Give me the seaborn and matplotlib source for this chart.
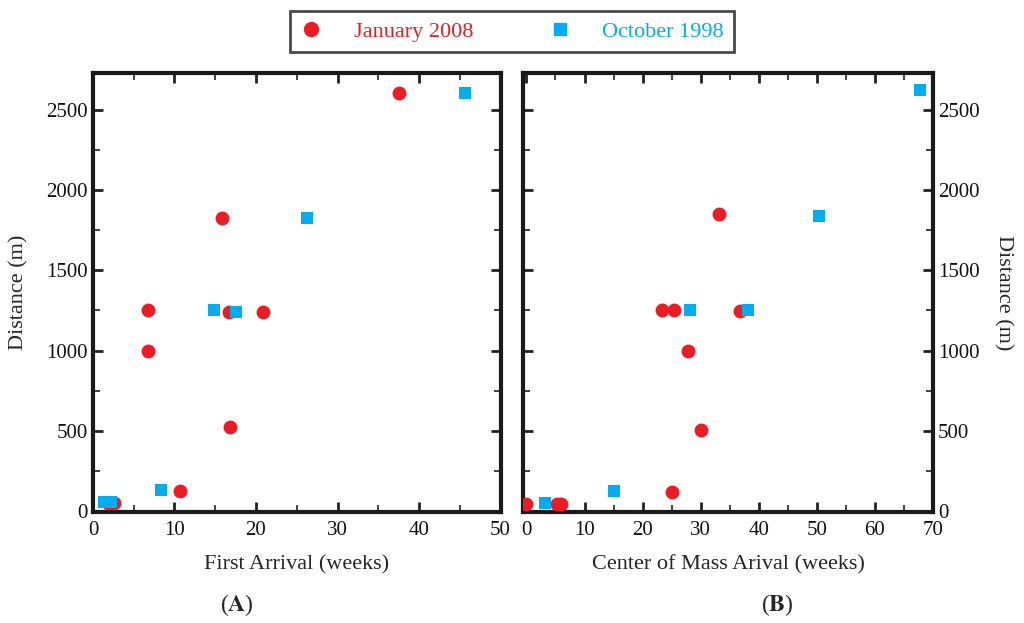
import matplotlib
matplotlib.use('Agg')
import matplotlib.pyplot as plt
import seaborn as sns
import pandas as pd
from matplotlib.ticker import MultipleLocator
from matplotlib.lines import Line2D

# series labels
series = ['January 2008', 'October 1998']
colors = {'January 2008': '#ED1C24', 'October 1998': '#00AEEF'}
markers = {'January 2008': 'o', 'October 1998': 's'}

# panel A: first arrival (weeks) vs distance (m)
jan_first_x = [37.6, 15.8, 6.8, 6.8, 16.7, 20.8, 16.8, 10.7, 1.8, 2.6]
jan_first_y = [2610, 1830, 1250, 1000, 1240, 1240, 520, 120, 45, 50]
oct_first_x = [45.7, 26.3, 14.9, 17.6, 8.4, 1.3, 2.2]
oct_first_y = [2610, 1830, 1255, 1240, 130, 55, 55]

# panel B: center of mass arrival (weeks) vs distance (m)
jan_com_x = [0.0, 5.2, 6.0, 25.1, 30.1, 27.8, 23.3, 25.4, 36.8, 33.2]
jan_com_y = [40, 40, 40, 115, 505, 995, 1250, 1250, 1247, 1850]
oct_com_x = [3.2, 15.0, 28.1, 38.1, 50.4, 67.8]
oct_com_y = [45, 120, 1250, 1250, 1840, 2630]

dfA = pd.concat([
    pd.DataFrame({'x': jan_first_x, 'y': jan_first_y, 'series': series[0]}),
    pd.DataFrame({'x': oct_first_x, 'y': oct_first_y, 'series': series[1]}),
])
dfB = pd.concat([
    pd.DataFrame({'x': jan_com_x, 'y': jan_com_y, 'series': series[0]}),
    pd.DataFrame({'x': oct_com_x, 'y': oct_com_y, 'series': series[1]}),
])

sns.set_style('white')
plt.rcParams['font.family'] = ['Liberation Serif', 'DejaVu Serif']
plt.rcParams['mathtext.fontset'] = 'stix'

fig = plt.figure(figsize=(10.24, 6.23), dpi=100)
axA = fig.add_axes([0.0908, 0.178, 0.398, 0.705])
axB = fig.add_axes([0.5107, 0.178, 0.4004, 0.705])

sizes = {'January 2008': 100, 'October 1998': 64}
for ax, df in [(axA, dfA), (axB, dfB)]:
    for s in series:
        sub = df[df['series'] == s]
        sns.scatterplot(data=sub, x='x', y='y', color=colors[s], marker=markers[s],
                        s=sizes[s], linewidth=0, ax=ax, legend=False, zorder=3)

axA.set_xlim(0, 50)
axB.set_xlim(-0.6, 70)
for ax in (axA, axB):
    ax.set_ylim(-10, 2735)
    ax.yaxis.set_major_locator(MultipleLocator(500))
    ax.yaxis.set_minor_locator(MultipleLocator(250))
    ax.xaxis.set_major_locator(MultipleLocator(10))
    ax.xaxis.set_minor_locator(MultipleLocator(5))
    ax.tick_params(which='both', direction='in', top=True, bottom=True, left=True, right=True,
                   labelsize=15, colors='#222222', labelcolor='#111111')
    ax.tick_params(axis='x', which='major', pad=6.5)
    ax.tick_params(which='major', length=7, width=2)
    ax.tick_params(which='minor', length=5, width=1.2)
    for sp in ax.spines.values():
        sp.set_linewidth(3)
        sp.set_color('#1a1a1a')

axA.set_xlabel('First Arrival (weeks)', fontsize=16, labelpad=11)
axA.set_ylabel('Distance (m)', fontsize=16, labelpad=13)
axB.set_xlabel('Center of Mass Arival (weeks)', fontsize=16, labelpad=11)
axB.yaxis.set_label_position('right')
axB.yaxis.tick_right()
axB.tick_params(which='both', left=True, right=True, labelleft=False, labelright=True)
axB.set_ylabel('Distance (m)', fontsize=16, rotation=270, labelpad=24)

# panel tags
fig.text(0.2314, 0.008, r'($\mathbf{A}$)', fontsize=17, ha='center', va='bottom')
fig.text(0.7588, 0.008, r'($\mathbf{B}$)', fontsize=17, ha='center', va='bottom')

handles = [Line2D([], [], linestyle='none', marker='o', color=colors[series[0]], markersize=10),
           Line2D([], [], linestyle='none', marker='s', color=colors[series[1]], markersize=8)]
leg = fig.legend(handles, series, loc='center', bbox_to_anchor=(0.5, 0.949), ncol=2,
                 fontsize=16, fancybox=False, frameon=True, handlelength=1.0,
                 handletextpad=1.4, columnspacing=3.4, borderpad=0.45,
                 borderaxespad=0.2, labelcolor='markerfacecolor')
leg.get_frame().set_edgecolor('#1a1a1a')
leg.get_frame().set_linewidth(2)

fig.savefig('out.png', dpi=100)
